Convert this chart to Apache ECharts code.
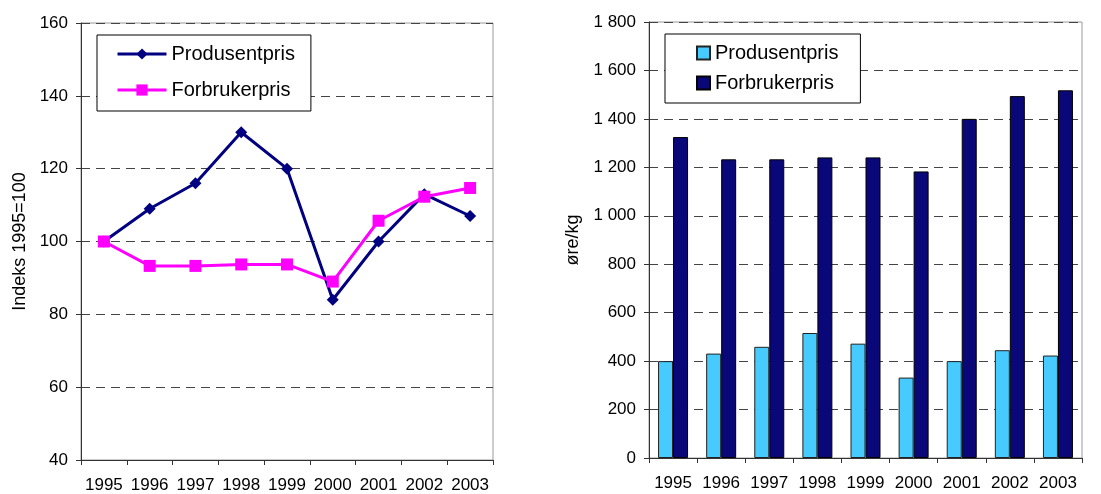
<!DOCTYPE html>
<html>
<head>
<meta charset="utf-8">
<script src="https://cdn.jsdelivr.net/npm/echarts@6/dist/echarts.min.js"></script>
<style>
  html, body { margin: 0; padding: 0; background: #fff; }
  #left { position: absolute; left: 0; top: 0; width: 550px; height: 494px; }
  #right { position: absolute; left: 550px; top: 0; width: 551px; height: 494px; }
</style>
</head>
<body>
<div id="left"></div>
<div id="right"></div>
<script>
// år
var years = ['1995', '1996', '1997', '1998', '1999', '2000', '2001', '2002', '2003']

// indeks 1995=100
var prodIndex = [100, 109, 116, 130, 120, 84, 100, 113, 107]
var forbIndex = [100, 93.3, 93.3, 93.7, 93.7, 89, 105.7, 112.3, 114.7]

// øre/kg
var prodPris = [400, 431, 459, 516, 472, 332, 400, 445, 423]
var forbPris = [1325, 1233, 1233, 1241, 1241, 1183, 1400, 1494, 1518]

var font = 'Liberation Sans, Arial, sans-serif'

function spaced (v) {
  return String(v).replace(/(\d)(?=(\d{3})$)/, '$1 ')
}

function xAxisCfg () {
  return {
    type: 'category',
    data: years,
    boundaryGap: true,
    axisLine: { lineStyle: { color: '#333', width: 1 } },
    axisTick: { show: true, interval: 0, length: 5, lineStyle: { color: '#333' } },
    axisLabel: { interval: 0, margin: 17, color: '#000', fontSize: 17, fontFamily: font }
  }
}

function yAxisCfg (min, max, step, name, gap, fmt) {
  return {
    type: 'value',
    min: min,
    max: max,
    interval: step,
    name: name,
    nameLocation: 'middle',
    nameGap: gap,
    nameTextStyle: { color: '#000', fontSize: 18, fontFamily: font },
    axisLine: { show: true, lineStyle: { color: '#333', width: 1 } },
    axisTick: { show: true, length: 5, lineStyle: { color: '#333' } },
    axisLabel: { margin: 13, color: '#000', fontSize: 17, fontFamily: font, formatter: fmt },
    splitLine: { show: true, lineStyle: { color: '#444', type: [9, 6], width: 1 } }
  }
}

// venstre: indeks
var leftChart = echarts.init(document.getElementById('left'))
leftChart.setOption({
  animation: false,
  grid: { left: 81, right: 57, top: 23, bottom: 34, show: true, borderColor: '#999', borderWidth: 1 },
  legend: {
    orient: 'vertical',
    left: 97,
    top: 35,
    padding: [9, 16, 11, 19],
    itemGap: 16,
    itemWidth: 49,
    itemHeight: 14,
    borderColor: '#000',
    borderWidth: 1,
    borderRadius: 0,
    backgroundColor: '#fff',
    lineStyle: { width: 3 },
    textStyle: { color: '#000', fontSize: 20, fontFamily: font },
    data: ['Produsentpris', 'Forbrukerpris']
  },
  xAxis: xAxisCfg(),
  yAxis: yAxisCfg(40, 160, 20, 'Indeks 1995=100', 49),
  series: [
    {
      name: 'Produsentpris',
      type: 'line',
      data: prodIndex,
      symbol: 'diamond',
      symbolSize: 12,
      color: '#000080',
      lineStyle: { width: 3, color: '#000080' },
      itemStyle: { color: '#000080' }
    },
    {
      name: 'Forbrukerpris',
      type: 'line',
      data: forbIndex,
      symbol: 'rect',
      symbolSize: 12,
      color: '#ff00ff',
      lineStyle: { width: 3, color: '#ff00ff' },
      itemStyle: { color: '#ff00ff' }
    }
  ]
})

// høyre: øre/kg
var rightChart = echarts.init(document.getElementById('right'))
rightChart.setOption({
  animation: false,
  grid: { left: 99, right: 19, top: 22, bottom: 36, show: true, borderColor: '#999', borderWidth: 1 },
  legend: {
    orient: 'vertical',
    left: 115,
    top: 34,
    padding: [9, 22, 10, 31],
    itemGap: 10,
    itemWidth: 13,
    itemHeight: 13,
    icon: 'rect',
    borderColor: '#000',
    borderWidth: 1,
    borderRadius: 0,
    backgroundColor: '#fff',
    textStyle: { color: '#000', fontSize: 20, fontFamily: font },
    data: ['Produsentpris', 'Forbrukerpris']
  },
  xAxis: xAxisCfg(),
  yAxis: yAxisCfg(0, 1800, 200, 'øre/kg', 67, spaced),
  series: [
    {
      name: 'Produsentpris',
      type: 'bar',
      data: prodPris,
      barWidth: 15,
      barGap: 0,
      itemStyle: { color: '#47cbff', borderColor: '#222', borderWidth: 1 }
    },
    {
      name: 'Forbrukerpris',
      type: 'bar',
      data: forbPris,
      barWidth: 15,
      barGap: 0,
      itemStyle: { color: '#0a0878', borderColor: '#000', borderWidth: 1 }
    }
  ]
})
</script>
</body>
</html>
